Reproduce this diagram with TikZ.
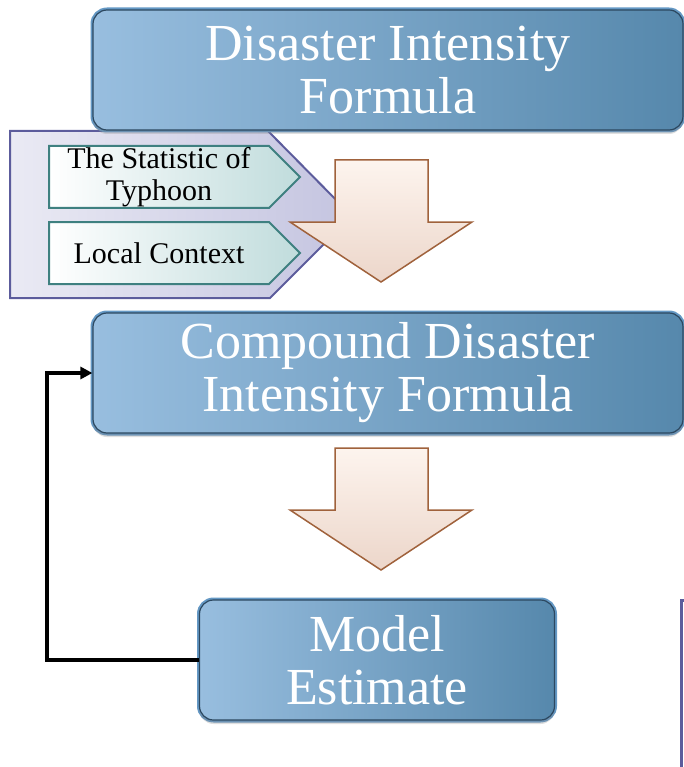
\documentclass[tikz,border=0pt]{standalone}
\usepackage{fontspec}
\setmainfont{Liberation Serif}
\usetikzlibrary{shapes.symbols,arrows.meta,shadows}

\definecolor{boxlight}{RGB}{152,190,223}
\definecolor{boxdark}{RGB}{86,136,172}
\definecolor{boxring}{RGB}{100,152,196}
\definecolor{boxline}{RGB}{44,72,96}
\definecolor{panelfill}{RGB}{234,234,244}
\definecolor{panelshade}{RGB}{196,196,224}
\definecolor{paneledge}{RGB}{92,92,156}
\definecolor{tagfill}{RGB}{192,220,220}
\definecolor{tagedge}{RGB}{62,128,128}
\definecolor{arrowtop}{RGB}{253,244,238}
\definecolor{arrowbot}{RGB}{236,214,202}
\definecolor{arrowedge}{RGB}{160,98,60}

\tikzset{
  formula/.style={rounded corners=14pt, left color=boxlight, right color=boxdark,
    draw=boxline, line width=1.2pt, preaction={draw=boxring, line width=5pt},
    drop shadow={shadow xshift=0pt, shadow yshift=-4pt, opacity=0.25},
    text=white, align=center, font=\fontsize{52}{53}\selectfont, inner sep=0pt},
  tag/.style={signal, signal to=east, signal pointer angle=90, anchor=west,
    left color=white, right color=tagfill, draw=tagedge, line width=2pt,
    minimum width=251pt, minimum height=62pt, inner sep=0pt,
    align=center, font=\fontsize{30}{32}\selectfont},
  panel/.style={left color=panelfill, right color=panelshade, draw=paneledge, line width=2pt},
  downarrow/.style={top color=arrowtop, bottom color=arrowbot, draw=arrowedge, line width=1.5pt},
  back/.style={line width=3.5pt, -{Triangle[length=12pt,width=12pt]}}
}

\begin{document}
\begin{tikzpicture}[x=1pt,y=-1pt]
\useasboundingbox (0,0) rectangle (684,767);

\draw[panel] (10,131) -- (268,131) -- (352,216) -- (270,298) -- (10,298) -- cycle;
\node [tag] (stat) at (48,177) {The Statistic of\\Typhoon};
\node [tag] (local) at (48,253) {Local Context};

\node [formula, minimum width=590pt, minimum height=120pt] (dif) at (388,70) {Disaster Intensity\\Formula};
\node [formula, minimum width=590pt, minimum height=120pt] (cdif) at (388,373) {Compound Disaster\\Intensity Formula};
\node [formula, minimum width=355pt, minimum height=120pt] (model) at (377,660) {Model\\Estimate};

\draw[downarrow] (335,160) -- (428,160) -- (428,222) -- (472,222) -- (381,282) -- (290,222) -- (335,222) -- cycle;
\draw[downarrow] (335,448) -- (428,448) -- (428,510) -- (472,510) -- (381,570) -- (290,510) -- (335,510) -- cycle;

\coordinate (turn) at (47,660);
\draw[back] (model.west) -- (turn) |- (cdif.west);

\draw[paneledge, line width=3pt] (686,600) -- (681,600) -- (681,767);

\end{tikzpicture}
\end{document}
